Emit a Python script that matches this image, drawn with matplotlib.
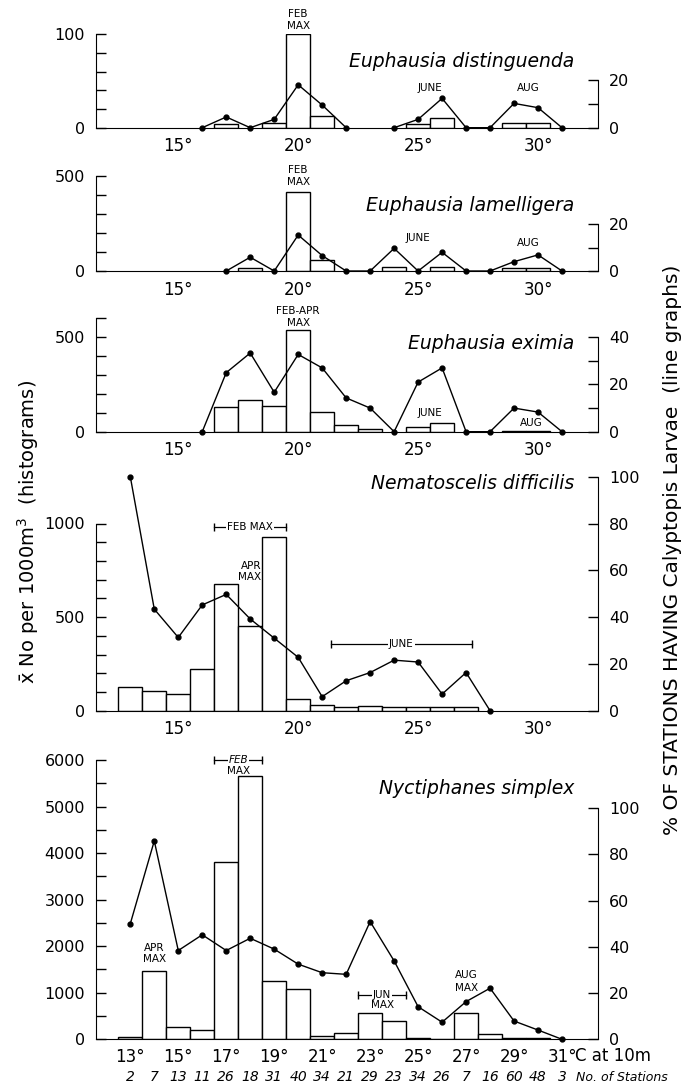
import numpy as np
import matplotlib
matplotlib.use("Agg")
import matplotlib.pyplot as plt

plt.rcParams['font.family'] = ['DejaVu Sans']
plt.rcParams['mathtext.fontset'] = 'dejavusans'

nan = np.nan
temps = np.arange(13, 32)

# histograms (No per 1000 m3), one value per degree 13..31
dist_bars = [0, 0, 0, 0, 4, 0, 4.6, 100, 12, 0, 0, 0, 4, 10, 0, 0, 5, 4.5, 0]
lam_bars = [0, 0, 0, 0, 0, 17.5, 0, 417, 58, 0, 0, 19, 0, 23, 0, 0, 14, 14, 0]
exim_bars = [0, 0, 0, 0, 130, 170, 134, 536, 102, 36, 12, 0, 23, 48, 0, 0, 5, 5, 0]
nema_bars = [128, 104, 89, 222, 678, 452, 930, 64, 32, 21, 27, 21, 21, 21, 21, 0, 0, 0, 0]
nyct_bars = [50, 1460, 271, 200, 3815, 5650, 1252, 1080, 71, 128, 558, 401, 25, 15, 573, 107, 30, 25, 0]

# line graphs (% of stations having Calyptopis larvae)
dist_line = [nan, nan, nan, 0, 4.5, 0, 3.5, 18, 9.5, 0, nan, 0, 3.5, 12.3, 0, 0, 10.2, 8.4, 0]
lam_line = [nan, nan, nan, nan, 0, 5.9, 0, 15.4, 6.6, 0, 0, 9.7, 0, 8, 0, 0, 4, 6.9, 0]
exim_line = [nan, nan, nan, 0, 25, 33.3, 16.7, 32.7, 27, 14.3, 10, 0, 21, 27, 0, 0, 10, 8.3, 0]
nema_line = [100, 43.4, 31.3, 45.2, 49.7, 39.2, 31, 22.8, 6, 12.8, 16.3, 21.6, 20.8, 7.1, 16.3, 0, nan, nan, nan]
nyct_line = [50, 85.8, 38.4, 45.2, 38.4, 43.7, 39, 32.5, 28.8, 28.1, 50.9, 33.9, 14.1, 7.4, 16.3, 22.1, 7.9, 4, 0]

stations = [2, 7, 13, 11, 26, 18, 31, 40, 34, 21, 29, 23, 34, 26, 7, 16, 60, 48, 3]

W, H = 696, 1086
fig = plt.figure(figsize=(W / 100, H / 100), dpi=100)

TICK = 11.5
ANN = 7.5


def panel(top, bot, bars, line, ylim, ltick, llab, lbound, rlim, rtick, rlab, rbound,
          name, name_y):
    ax = fig.add_axes([96 / W, 1 - bot / H, 502 / W, (bot - top) / H])
    ax.set_xlim(11.57, 32.5)
    ax.set_ylim(0, ylim)
    b = np.array(bars, dtype=float)
    m = b > 0
    ax.bar(temps[m], b[m], width=1.0, facecolor='white', edgecolor='black', linewidth=1.0)
    ax.spines['top'].set_visible(False)
    ax.spines['right'].set_visible(False)
    ax.spines['left'].set_bounds(0, lbound)
    ax.set_yticks(ltick)
    ax.set_yticklabels([str(t) if t in llab else '' for t in ltick], fontsize=TICK)
    ax.tick_params(axis='y', direction='in', length=7, width=1, pad=8)
    ax.tick_params(axis='x', length=0, pad=7, labelsize=12)
    ax2 = ax.twinx()
    ax2.set_ylim(0, rlim)
    ax2.plot(temps, line, color='black', lw=1.0, marker='o', ms=3.5, clip_on=False)
    for s in ['top', 'left', 'bottom']:
        ax2.spines[s].set_visible(False)
    ax2.spines['right'].set_bounds(0, rbound)
    ax2.set_yticks(rtick)
    ax2.set_yticklabels([str(t) if t in rlab else '' for t in rtick], fontsize=TICK)
    ax2.tick_params(axis='y', direction='in', length=7, width=1, pad=8)
    ax.text(31.5, name_y, name, ha='right', va='center', fontsize=13.5, style='italic')
    return ax, ax2


def bracket(ax, x0, x1, y, label, italic=False):
    ax.plot([x0, x1], [y, y], color='black', lw=0.9, marker='|', ms=6, clip_on=False)
    ax.text((x0 + x1) / 2, y, label, ha='center', va='center', fontsize=ANN,
            style='italic' if italic else 'normal',
            bbox=dict(facecolor='white', edgecolor='none', pad=0.6))


def ann(ax, x, y, s):
    ax.text(x, y, s, ha='center', va='center', fontsize=ANN, clip_on=False)


degs = [15, 20, 25, 30]
deglabs = ['%d°' % d for d in degs]

# Euphausia distinguenda
ax, ax2 = panel(34.3, 127.7, dist_bars, dist_line, 100, list(range(0, 101, 20)), [0, 100], 100,
                39.2, [0, 10, 20], [0, 20], 20, 'Euphausia distinguenda', 71)
ax.set_xticks(degs, deglabs)
ann(ax, 20, 121.7, 'FEB')
ann(ax, 20, 108.9, 'MAX')
ann(ax, 25.5, 42, 'JUNE')
ann(ax, 29.6, 42, 'AUG')

# Euphausia lamelligera
ax, ax2 = panel(176, 271, lam_bars, lam_line, 500, list(range(0, 501, 100)), [0, 500], 500,
                40.7, [0, 10, 20], [0, 20], 20, 'Euphausia lamelligera', 347)
ax.set_xticks(degs, deglabs)
ann(ax, 20, 532, 'FEB')
ann(ax, 20, 470, 'MAX')
ann(ax, 25.0, 172, 'JUNE')
ann(ax, 29.6, 146, 'AUG')

# Euphausia eximia
ax, ax2 = panel(318.3, 431.7, exim_bars, exim_line, 600, list(range(0, 601, 100)), [0, 500], 600,
                48, [0, 10, 20, 30, 40], [0, 20, 40], 40, 'Euphausia eximia', 468)
ax.set_xticks(degs, deglabs)
ann(ax, 20, 640, 'FEB-APR')
ann(ax, 20, 573, 'MAX')
ann(ax, 25.5, 100, 'JUNE')
ann(ax, 29.7, 48, 'AUG')

# Nematoscelis difficilis
ax, ax2 = panel(476.7, 710.7, nema_bars, nema_line, 1250, list(range(0, 1001, 100)), [0, 500, 1000],
                1000, 100, list(range(0, 101, 20)), list(range(0, 101, 20)), 100,
                'Nematoscelis difficilis', 1216)
ax.set_xticks(degs, deglabs)
bracket(ax, 16.5, 19.5, 983, 'FEB MAX')
ax.text(18.45, 774, 'APR', ha='right', va='center', fontsize=ANN)
ax.text(18.45, 712, 'MAX', ha='right', va='center', fontsize=ANN)
bracket(ax, 21.35, 27.25, 358, 'JUNE')

# Nyctiphanes simplex
ax, ax2 = panel(760, 1039.3, nyct_bars, nyct_line, 6000, list(range(0, 6001, 500)),
                list(range(0, 6001, 1000)), 6000, 120.8, list(range(0, 101, 20)),
                list(range(0, 101, 20)), 100, 'Nyctiphanes simplex', 5392)
odd = list(range(13, 32, 2))
ax.set_xticks(odd, ['%d°' % d for d in odd])
ax.tick_params(axis='x', pad=6, labelsize=12)
xt = ax.get_xaxis_transform()
ax.text(31.55, -0.06, 'C at 10m', transform=xt, ha='left', va='center', fontsize=12)
for t, n in zip(temps, stations):
    ax.text(t, -0.135, str(n), transform=xt, ha='center', va='center',
            fontsize=10, style='italic')
ax.text(31.6, -0.135, 'No. of Stations', transform=xt, ha='left',
        va='center', fontsize=9, style='italic')
bracket(ax, 16.5, 18.5, 6000, 'FEB', italic=True)
ann(ax, 17.5, 5760, 'MAX')
ann(ax, 14, 1963, 'APR')
ann(ax, 14, 1724, 'MAX')
bracket(ax, 22.5, 24.5, 952, 'JUN')
ann(ax, 23.5, 740, 'MAX')
ann(ax, 27, 1381, 'AUG')
ann(ax, 27, 1102, 'MAX')

fig.text(28 / W, 1 - 532 / H, r'$\bar{\mathrm{x}}$ No per 1000m$^3$  (histograms)', rotation=90,
         ha='center', va='center', fontsize=14)
fig.text(672 / W, 1 - 550 / H, '% OF STATIONS HAVING Calyptopis Larvae  (line graphs)',
         rotation=90, ha='center', va='center', fontsize=14.5)

fig.savefig('out.png', dpi=100)
